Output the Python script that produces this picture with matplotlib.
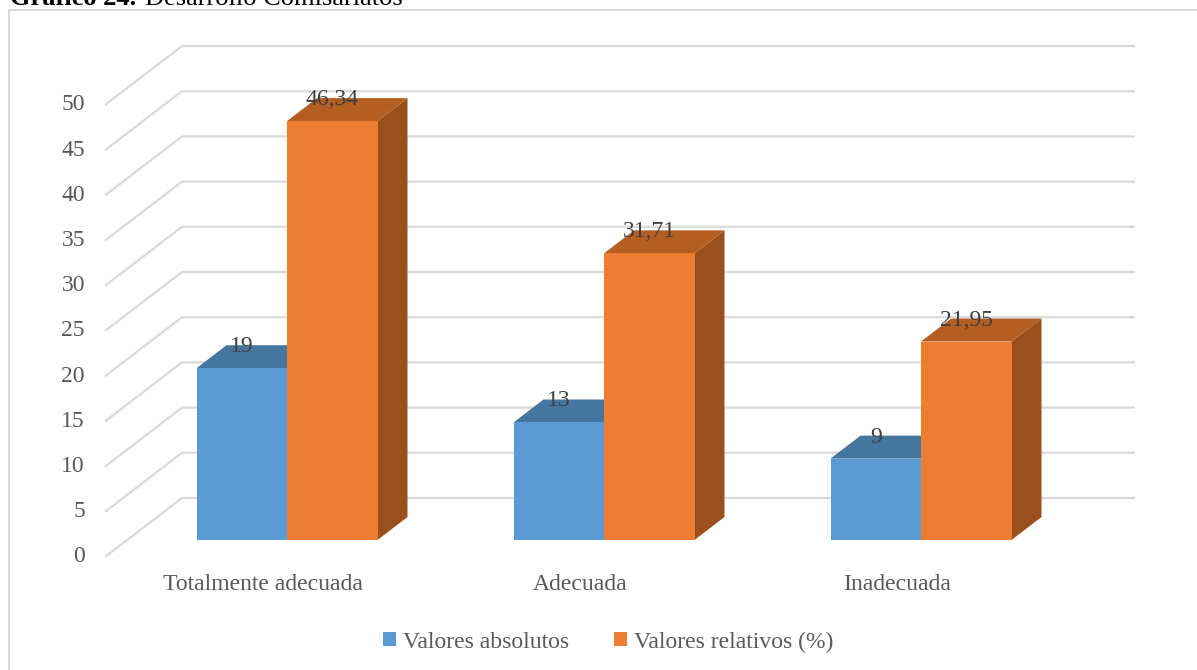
import matplotlib
matplotlib.use("Agg")
import matplotlib.pyplot as plt
from matplotlib.patches import Polygon, Rectangle

plt.rcParams['font.family'] = ['Liberation Serif', 'DejaVu Serif']

categories = ["Totalmente adecuada", "Adecuada", "Inadecuada"]
absolutos = [19, 13, 9]
relativos = [46.34, 31.71, 21.95]
abs_labels = ["19", "13", "9"]
rel_labels = ["46,34", "31,71", "21,95"]
yticks = list(range(0, 55, 5))
series_names = ["Valores absolutos", "Valores relativos (%)"]

W, H = 1197, 670
fig = plt.figure(figsize=(W / 100, H / 100), dpi=100)
ax = fig.add_axes([0, 0, 1, 1])
ax.axis('off')

# layout scale (pixels per data unit)
PXX, X0 = 317.0, 287.0
PXY, Y0 = 9.04, 540.0
ax.set_xlim(-X0 / PXX, (W - X0) / PXX)
ax.set_ylim(-(H - Y0) / PXY, Y0 / PXY)

def px_x(p):
    return p / PXX

def px_y(p):
    return p / PXY

# 3D geometry
bar_w = px_x(90.5)
bar_dx = px_x(30)
bar_dy = px_y(23)
front_left = (105 - X0) / PXX
wall_left = (182 - X0) / PXX
right_end = (1135 - X0) / PXX
front_dy = px_y(-17)
wall_dy = px_y(42)

grid_c = '#d9d9d9'
for v in yticks:
    ax.plot([front_left, wall_left, right_end],
            [v + front_dy, v + wall_dy, v + wall_dy],
            color=grid_c, lw=1.6, zorder=1, solid_capstyle='butt')
    ax.text((85 - X0) / PXX, v + front_dy, str(v), ha='right', va='center',
            fontsize=17, color='#595959')

colors = {
    'blue': ('#5b9bd5', '#44769f', '#3a6690'),
    'orange': ('#ed7d31', '#b55e21', '#9a4f1c'),
}

def bar3d(x_left, val, cols, z):
    front, top, side = cols
    ax.bar(x_left, val, width=bar_w, align='edge', color=front, zorder=z,
           linewidth=0)
    xr = x_left + bar_w
    side_poly = Polygon([(xr, 0), (xr + bar_dx, bar_dy), (xr + bar_dx, val + bar_dy), (xr, val)],
                        closed=True, facecolor=side, edgecolor='none', zorder=z - 0.5)
    top_poly = Polygon([(x_left, val), (x_left + bar_dx, val + bar_dy),
                        (xr + bar_dx, val + bar_dy), (xr, val)],
                       closed=True, facecolor=top, edgecolor='none', zorder=z - 0.5)
    ax.add_patch(side_poly)
    ax.add_patch(top_poly)

for i in range(len(categories)):
    bar3d(i - bar_w, absolutos[i], colors['blue'], 3)
    bar3d(i, relativos[i], colors['orange'], 5)
    ax.text(i - bar_w / 2, absolutos[i] + px_y(16), abs_labels[i], ha='center',
            va='baseline', fontsize=17, color='#404040', zorder=10)
    ax.text(i + bar_w / 2, relativos[i] + px_y(16), rel_labels[i], ha='center',
            va='baseline', fontsize=17, color='#404040', zorder=10)
    ax.text(i - px_x(24), -px_y(45), categories[i], ha='center', va='center',
            fontsize=17, color='#595959')

# legend
handles = [Rectangle((0, 0), 1, 1, facecolor=colors['blue'][0], edgecolor='none'),
           Rectangle((0, 0), 1, 1, facecolor=colors['orange'][0], edgecolor='none')]
leg = fig.legend(handles, series_names, loc='center', ncol=2,
                 bbox_to_anchor=(608 / W, 1 - 642 / H), frameon=False,
                 fontsize=17, handlelength=0.55, handleheight=0.55,
                 handletextpad=0.3, columnspacing=1.9, labelcolor='#595959')

# chart border
fig.patches.append(Rectangle((9 / W, -0.01), 1.0, 1 - 10 / H + 0.01,
                             transform=fig.transFigure, facecolor='none',
                             edgecolor='#d9d9d9', lw=1.5, zorder=0))

# cut-off caption at top (as in the reference)
fig.text(10 / W, 1 - 5 / H, "Gráfico 24.", fontsize=19, fontweight='bold',
         ha='left', va='baseline', color='black')
fig.text(145 / W, 1 - 5 / H, "Desarrollo Comisariatos", fontsize=19,
         ha='left', va='baseline', color='black')

fig.savefig("out.png", dpi=100)
